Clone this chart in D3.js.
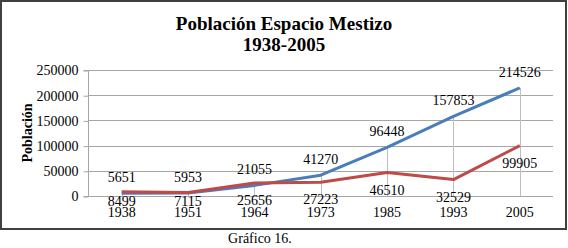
<!DOCTYPE html>
<html><head><meta charset="utf-8">
<script src="https://cdn.jsdelivr.net/npm/d3@7"></script>
<style>body{margin:0;background:#fff}svg{display:block}</style>
</head><body>
<script>
const years = ["1938","1951","1964","1973","1985","1993","2005"];
const seriesBlue = [5651, 5953, 21055, 41270, 96448, 157853, 214526];
const seriesRed = [8499, 7115, 25656, 27223, 46510, 32529, 99905];
const yTicks = [0, 50000, 100000, 150000, 200000, 250000];
const titleLines = ["Población Espacio Mestizo", "1938-2005"];
const yTitle = "Población";
const caption = "Gráfico 16.";

const FONT = "Liberation Serif, Times New Roman, Times, serif";
const W = 568, H = 248;
const svg = d3.select("body").append("svg").attr("width", W).attr("height", H)
  .attr("font-family", FONT);

svg.append("rect").attr("x", 1).attr("y", 1).attr("width", 565).attr("height", 228)
  .attr("fill", "#fff").attr("stroke", "#404040").attr("stroke-width", 2);

const x = d3.scalePoint().domain(years).range([88.5, 553]).padding(0.5);
const y = d3.scaleLinear().domain([0, 250000]).range([196, 70]);

// gridlines
svg.append("g").selectAll("line").data(yTicks).join("line")
  .attr("x1", 88.5).attr("x2", 553)
  .attr("y1", d => Math.round(y(d)) + 0.5).attr("y2", d => Math.round(y(d)) + 0.5)
  .attr("stroke", "#a6a6a6").attr("stroke-width", 1);

// y axis
const yAxis = d3.axisLeft(y).tickValues(yTicks).tickSize(5).tickPadding(5).tickFormat(d3.format("d"));
const ga = svg.append("g").attr("transform", "translate(88.5,0.5)").call(yAxis)
  .attr("font-family", FONT).attr("font-size", 14);
ga.select(".domain").attr("stroke", "#a6a6a6").attr("d", `M-5,${y(0)}H0V${y(250000)}H-5`);
ga.selectAll(".tick line").attr("stroke", "#a6a6a6");
ga.selectAll(".tick text").attr("fill", "#000");

// drop lines
svg.append("g").selectAll("line").data(years).join("line")
  .attr("x1", d => Math.round(x(d)) + 0.5).attr("x2", d => Math.round(x(d)) + 0.5)
  .attr("y1", (d, i) => y(Math.max(seriesBlue[i], seriesRed[i])))
  .attr("y2", y(0))
  .attr("stroke", "#bfbfbf").attr("stroke-width", 1);

const T = sel => sel.style("font-family", FONT);

// x labels
svg.append("g").selectAll("text").data(years).join("text")
  .attr("x", d => x(d)).attr("y", 217).attr("text-anchor", "middle")
  .attr("font-size", 14).text(d => d).call(T);

const line = d3.line().x((d, i) => x(years[i])).y(d => y(d));
svg.append("path").datum(seriesBlue).attr("d", line).attr("fill", "none")
  .attr("stroke", "#4a7ebb").attr("stroke-width", 3).attr("stroke-linejoin", "round");
svg.append("path").datum(seriesRed).attr("d", line).attr("fill", "none")
  .attr("stroke", "#be4b48").attr("stroke-width", 3).attr("stroke-linejoin", "round");

// data labels
svg.append("g").selectAll("text").data(seriesBlue).join("text")
  .attr("x", (d, i) => x(years[i])).attr("y", d => y(d) - 11)
  .attr("text-anchor", "middle").attr("font-size", 14).text(d => d).call(T);
svg.append("g").selectAll("text").data(seriesRed).join("text")
  .attr("x", (d, i) => x(years[i])).attr("y", d => Math.min(y(d) + 22, y(0) + 10))
  .attr("text-anchor", "middle").attr("font-size", 14).text(d => d).call(T);

// titles
svg.append("g").selectAll("text").data(titleLines).join("text")
  .attr("x", 284).attr("y", (d, i) => 30 + i * 21).attr("text-anchor", "middle")
  .attr("font-size", 19).attr("font-weight", "bold").text(d => d).call(T);

svg.append("text").attr("transform", "translate(32,133) rotate(-90)")
  .attr("text-anchor", "middle").attr("font-size", 14).attr("font-weight", "bold").text(yTitle).call(T);

svg.append("text").attr("x", 260).attr("y", 243).attr("text-anchor", "middle")
  .attr("font-size", 14).text(caption).call(T);
</script>
</body></html>
